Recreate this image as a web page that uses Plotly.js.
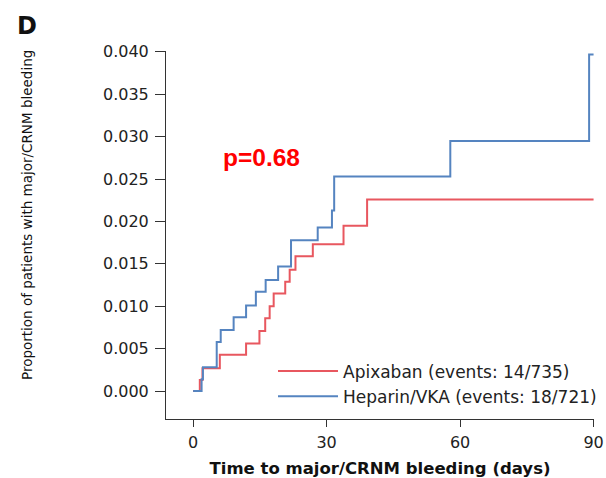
<!DOCTYPE html>
<html>
<head>
<meta charset="utf-8">
<script src="https://cdn.plot.ly/plotly-3.0.1.min.js"></script>
<style>
html,body{margin:0;padding:0;background:#fff;}
#chart{width:606px;height:478px;}
</style>
</head>
<body>
<div id="chart"></div>
<script>
// Kaplan-Meier style cumulative incidence
const apixabanDays = [0, 1.5, 2.1, 6.0, 11.9, 14.9, 16.2, 17.2, 18.1, 20.7, 21.7, 23.0, 26.9, 33.8, 39.1, 90];
const apixabanProp = [0, 0.0013, 0.0027, 0.0043, 0.0056, 0.0071, 0.0086, 0.0100, 0.0115, 0.0129, 0.0143, 0.0159, 0.0173, 0.0195, 0.0226, 0.0226];

const heparinDays = [0, 1.9, 2.2, 5.3, 6.2, 9.1, 11.9, 14.1, 16.3, 19.1, 22.0, 28.0, 31.2, 31.7, 57.8, 89.0, 90];
const heparinProp = [0, 0.0014, 0.0028, 0.0058, 0.0072, 0.0087, 0.0101, 0.0117, 0.0131, 0.0147, 0.0178, 0.0193, 0.0213, 0.0253, 0.0295, 0.0397, 0.0397];

const seriesNames = ["Apixaban (events: 14/735)", "Heparin/VKA (events: 18/721)"];
const xTicks = [0, 30, 60, 90];
const yTicks = [0, 0.005, 0.010, 0.015, 0.020, 0.025, 0.030, 0.035, 0.040];
const yTickText = ["0.000", "0.005", "0.010", "0.015", "0.020", "0.025", "0.030", "0.035", "0.040"];
const xTitle = "Time to major/CRNM bleeding (days)";
const yTitle = "Proportion of patients with major/CRNM bleeding";
const pValueText = "p=0.68";
const panelLabel = "D";

const traces = [
  {x: apixabanDays, y: apixabanProp, name: seriesNames[0], type: "scatter", mode: "lines",
   line: {shape: "hv", color: "#e8575f", width: 2}},
  {x: heparinDays, y: heparinProp, name: seriesNames[1], type: "scatter", mode: "lines",
   line: {shape: "hv", color: "#5584c0", width: 2}}
];

const layout = {
  width: 606, height: 478,
  margin: {l: 166, r: 12, t: 51, b: 59, autoexpand: false},
  paper_bgcolor: "#fff", plot_bgcolor: "#fff",
  showlegend: true,
  legend: {x: 0.25, y: 0.178, xanchor: "left", yanchor: "top", bgcolor: "rgba(0,0,0,0)",
           font: {family: "DejaVu Sans", size: 17, color: "#222"}, itemwidth: 60, tracegroupgap: 0},
  xaxis: {range: [-6.1, 90.1], tickvals: xTicks, ticktext: xTicks.map(String),
          showgrid: false, zeroline: false, showline: true, linecolor: "#333", linewidth: 1,
          ticks: "outside", ticklen: 7, tickcolor: "#333", tickwidth: 1,
          ticklabelstandoff: 2,
          tickfont: {family: "DejaVu Sans", size: 16, color: "#222"},
          title: {text: xTitle, standoff: 12,
                  font: {family: "DejaVu Sans", size: 16.5, color: "#111", weight: "bold"}}},
  yaxis: {range: [-0.00329, 0.0401], tickvals: yTicks, ticktext: yTickText,
          showgrid: false, zeroline: false, showline: true, linecolor: "#333", linewidth: 1,
          ticks: "outside", ticklen: 10, tickcolor: "#333", tickwidth: 1,
          ticklabelstandoff: 3,
          tickfont: {family: "DejaVu Sans", size: 16, color: "#222"}},
  annotations: [
    {text: yTitle, x: -0.325, y: 0.554, xref: "paper", yref: "paper", textangle: -90,
     xanchor: "center", yanchor: "middle", showarrow: false,
     font: {family: "DejaVu Sans", size: 13.5, color: "#111"}},
    {text: pValueText, x: 15.3, y: 0.0275, xref: "x", yref: "y", showarrow: false,
     font: {family: "Liberation Sans", size: 24.5, color: "#ff0000", weight: "bold"}},
    {text: panelLabel, x: -0.352, y: 1.112, xref: "paper", yref: "paper", xanchor: "left", yanchor: "top",
     showarrow: false, font: {family: "DejaVu Sans", size: 24, color: "#111", weight: "bold"}}
  ]
};

Plotly.newPlot("chart", traces, layout, {displayModeBar: false, staticPlot: true});
</script>
</body>
</html>
